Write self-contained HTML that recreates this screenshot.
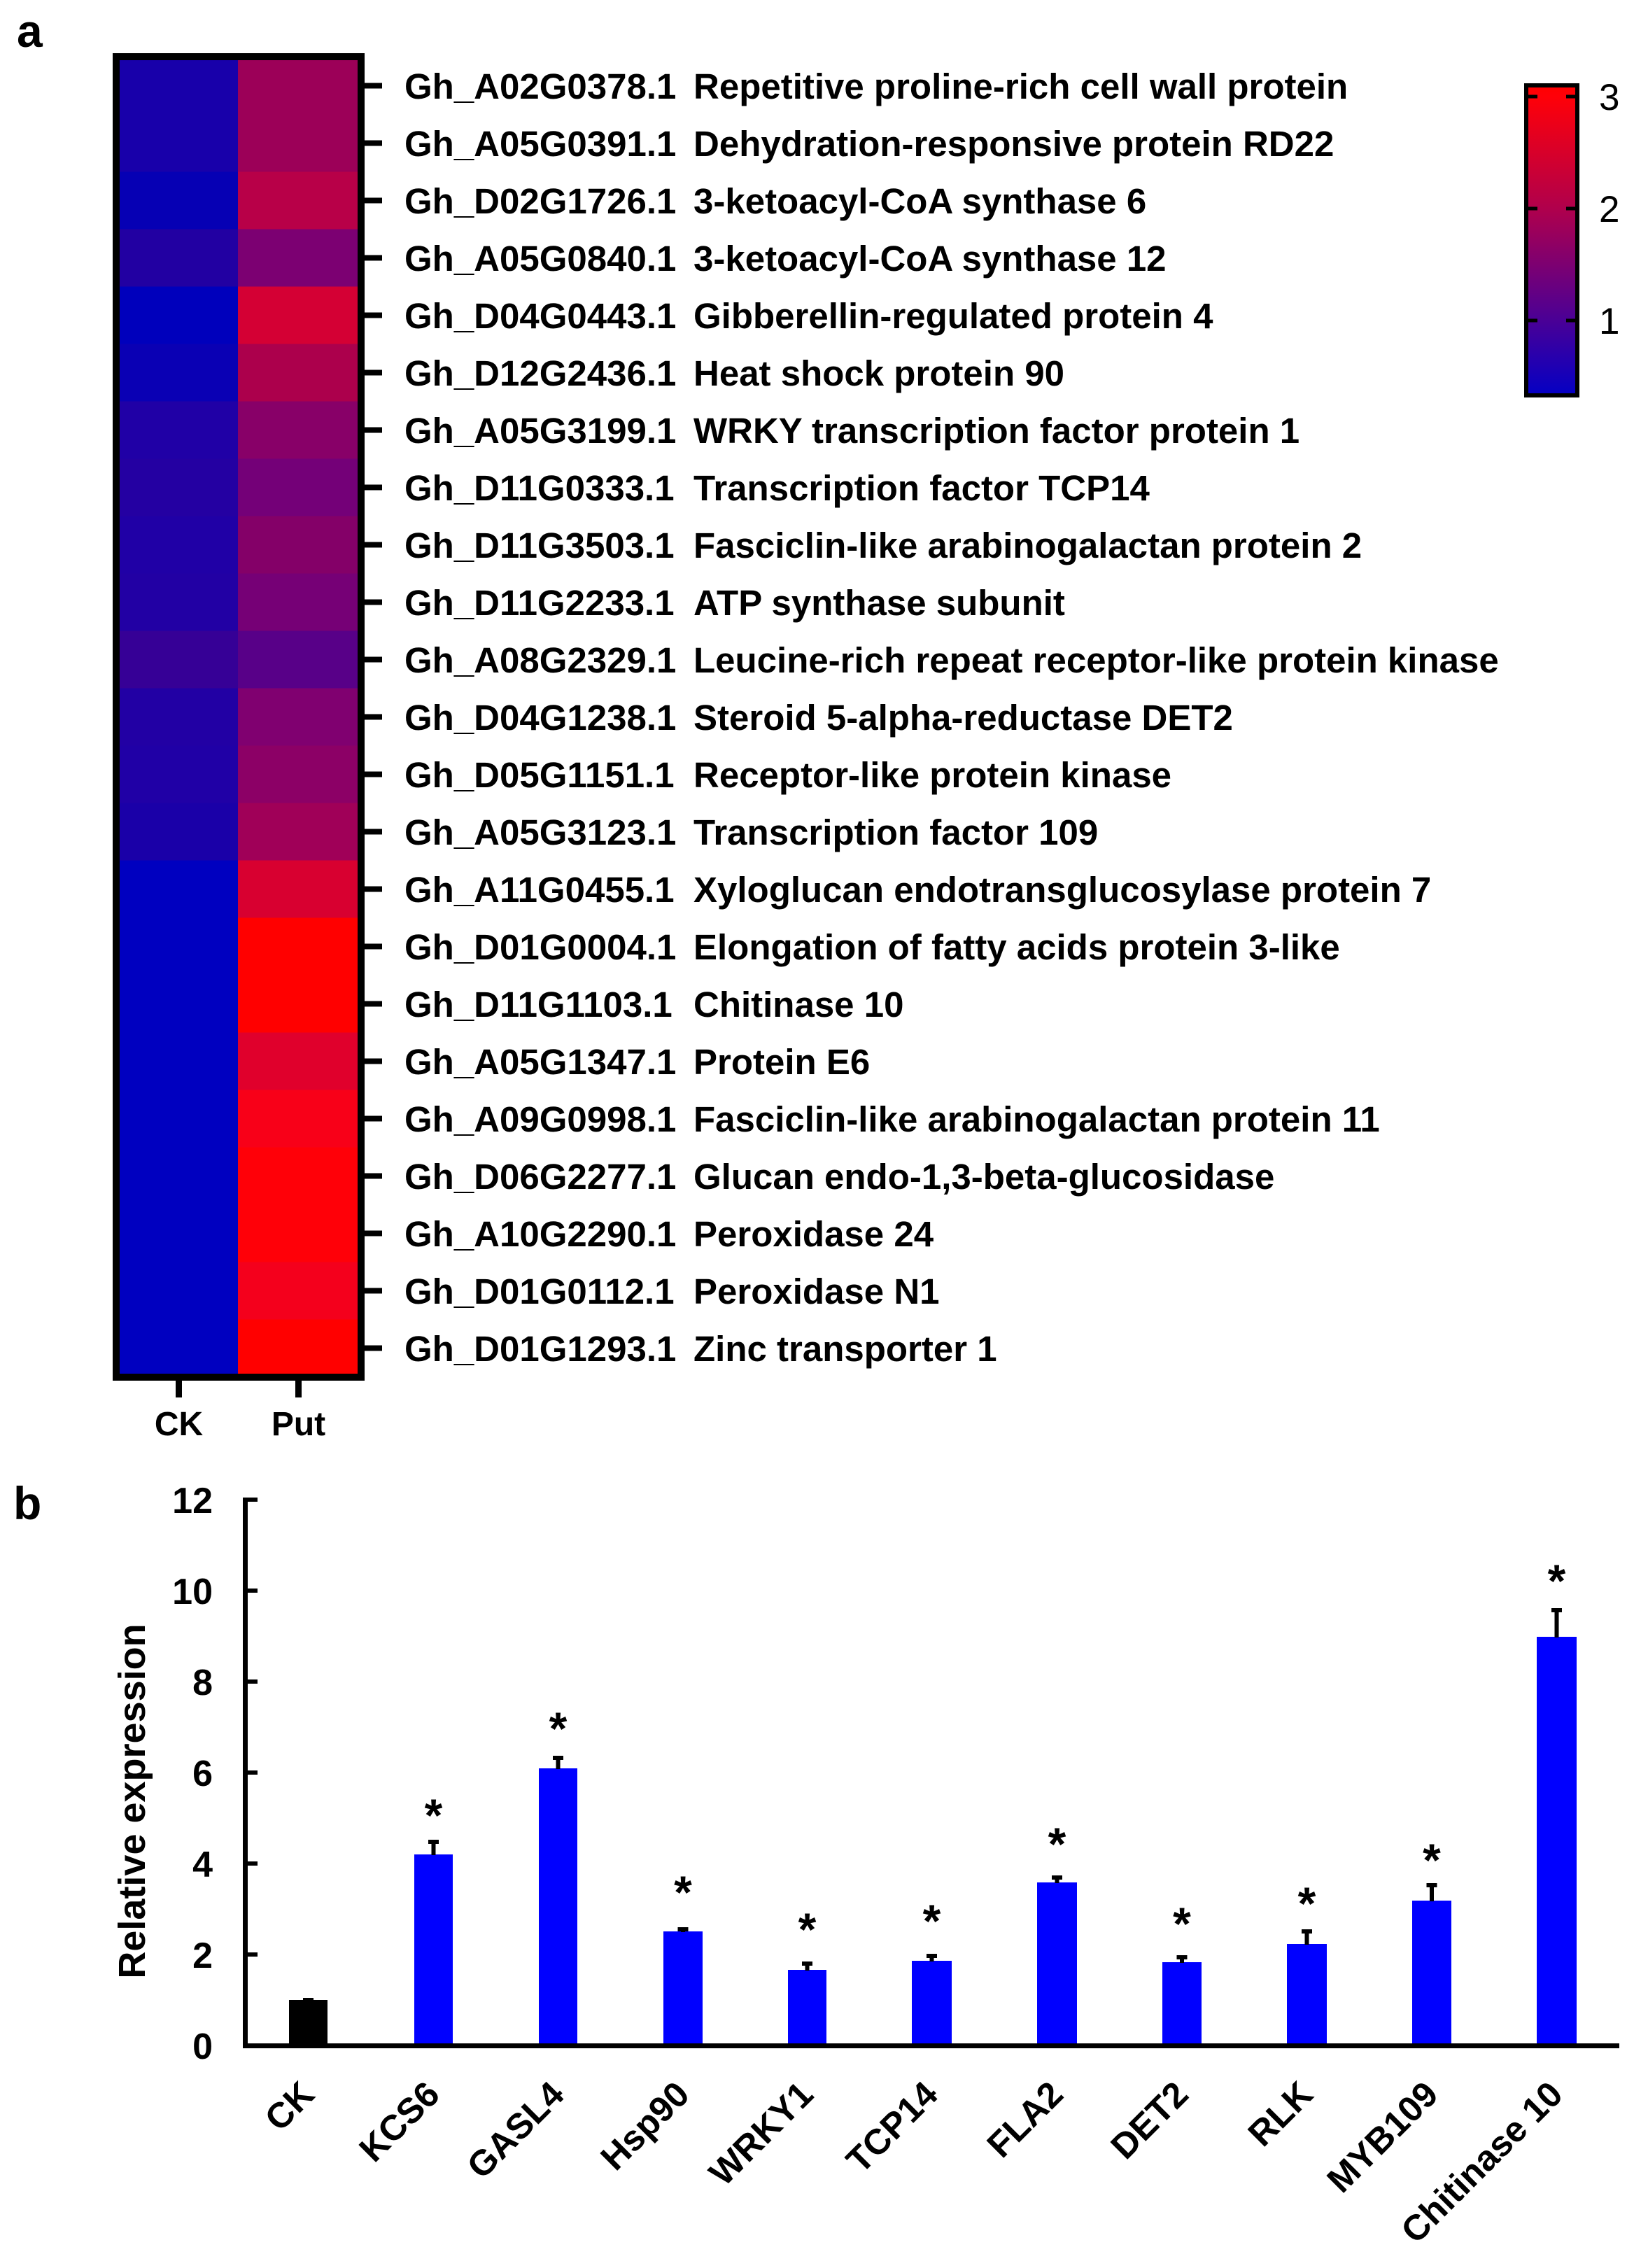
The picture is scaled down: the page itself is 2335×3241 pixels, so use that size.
<!DOCTYPE html>
<html><head><meta charset="utf-8"><style>
html,body{margin:0;padding:0;background:#fff}
svg{display:block}
text{font-family:"Liberation Sans",Arial,sans-serif}
.b{font-weight:bold}
</style></head><body>
<svg xmlns="http://www.w3.org/2000/svg" width="2335" height="3241" viewBox="0 0 2335 3241">
<defs>
<linearGradient id="cb" x1="0" y1="0" x2="0" y2="1">
<stop offset="0" stop-color="#ff0000"/>
<stop offset="0.036" stop-color="#ff0008"/>
<stop offset="0.397" stop-color="#b0004c"/>
<stop offset="0.758" stop-color="#4a0096"/>
<stop offset="1" stop-color="#0400c4"/>
</linearGradient>
</defs>
<rect width="2335" height="3241" fill="#fff"/>
<text class="b" x="24" y="67" font-size="66">a</text>
<!-- heatmap cells -->
<g shape-rendering="crispEdges">
<rect x="166" y="81.5" width="175" height="82" fill="#1800aa"/><rect x="340" y="81.5" width="176" height="82" fill="#9c0058"/>
<rect x="166" y="163.5" width="175" height="82" fill="#1800aa"/><rect x="340" y="163.5" width="176" height="82" fill="#9c0058"/>
<rect x="166" y="245.5" width="175" height="82" fill="#0600b4"/><rect x="340" y="245.5" width="176" height="82" fill="#b80048"/>
<rect x="166" y="327.5" width="175" height="82" fill="#2200a2"/><rect x="340" y="327.5" width="176" height="82" fill="#7c0072"/>
<rect x="166" y="409.5" width="175" height="82" fill="#0000bc"/><rect x="340" y="409.5" width="176" height="82" fill="#d40034"/>
<rect x="166" y="491.5" width="175" height="82" fill="#0a00b4"/><rect x="340" y="491.5" width="176" height="82" fill="#ac004c"/>
<rect x="166" y="573.5" width="175" height="82" fill="#2000a6"/><rect x="340" y="573.5" width="176" height="82" fill="#880068"/>
<rect x="166" y="655.5" width="175" height="82" fill="#2400a2"/><rect x="340" y="655.5" width="176" height="82" fill="#740078"/>
<rect x="166" y="737.5" width="175" height="82" fill="#2000a6"/><rect x="340" y="737.5" width="176" height="82" fill="#840068"/>
<rect x="166" y="819.5" width="175" height="82" fill="#2200a4"/><rect x="340" y="819.5" width="176" height="82" fill="#760076"/>
<rect x="166" y="901.5" width="175" height="82" fill="#360096"/><rect x="340" y="901.5" width="176" height="82" fill="#580088"/>
<rect x="166" y="983.5" width="175" height="82" fill="#2200a4"/><rect x="340" y="983.5" width="176" height="82" fill="#800070"/>
<rect x="166" y="1065.5" width="175" height="82" fill="#2000a6"/><rect x="340" y="1065.5" width="176" height="82" fill="#8c0066"/>
<rect x="166" y="1147.5" width="175" height="82" fill="#1a00a8"/><rect x="340" y="1147.5" width="176" height="82" fill="#a00058"/>
<rect x="166" y="1229.5" width="175" height="82" fill="#0000c0"/><rect x="340" y="1229.5" width="176" height="82" fill="#d80030"/>
<rect x="166" y="1311.5" width="175" height="82" fill="#0000c0"/><rect x="340" y="1311.5" width="176" height="82" fill="#ff0000"/>
<rect x="166" y="1393.5" width="175" height="82" fill="#0000c0"/><rect x="340" y="1393.5" width="176" height="82" fill="#ff0000"/>
<rect x="166" y="1475.5" width="175" height="82" fill="#0000c0"/><rect x="340" y="1475.5" width="176" height="82" fill="#e0002c"/>
<rect x="166" y="1557.5" width="175" height="82" fill="#0000c0"/><rect x="340" y="1557.5" width="176" height="82" fill="#f80018"/>
<rect x="166" y="1639.5" width="175" height="82" fill="#0000c0"/><rect x="340" y="1639.5" width="176" height="82" fill="#ff0008"/>
<rect x="166" y="1721.5" width="175" height="82" fill="#0000c0"/><rect x="340" y="1721.5" width="176" height="82" fill="#ff0008"/>
<rect x="166" y="1803.5" width="175" height="82" fill="#0000c0"/><rect x="340" y="1803.5" width="176" height="82" fill="#f4001c"/>
<rect x="166" y="1885.5" width="175" height="83" fill="#0000c0"/><rect x="340" y="1885.5" width="176" height="83" fill="#ff0000"/>
</g>
<rect x="166" y="81" width="350" height="1887" fill="none" stroke="#000" stroke-width="10"/>
<!-- right ticks -->
<g fill="#000">
<rect x="521" y="118.5" width="25" height="8"/><rect x="521" y="200.5" width="25" height="8"/><rect x="521" y="282.5" width="25" height="8"/>
<rect x="521" y="364.5" width="25" height="8"/><rect x="521" y="446.5" width="25" height="8"/><rect x="521" y="528.5" width="25" height="8"/>
<rect x="521" y="610.5" width="25" height="8"/><rect x="521" y="692.5" width="25" height="8"/><rect x="521" y="774.5" width="25" height="8"/>
<rect x="521" y="856.5" width="25" height="8"/><rect x="521" y="938.5" width="25" height="8"/><rect x="521" y="1020.5" width="25" height="8"/>
<rect x="521" y="1102.5" width="25" height="8"/><rect x="521" y="1184.5" width="25" height="8"/><rect x="521" y="1266.5" width="25" height="8"/>
<rect x="521" y="1348.5" width="25" height="8"/><rect x="521" y="1430.5" width="25" height="8"/><rect x="521" y="1512.5" width="25" height="8"/>
<rect x="521" y="1594.5" width="25" height="8"/><rect x="521" y="1676.5" width="25" height="8"/><rect x="521" y="1758.5" width="25" height="8"/>
<rect x="521" y="1840.5" width="25" height="8"/><rect x="521" y="1922.5" width="25" height="8"/>
<rect x="251" y="1972" width="9" height="25"/><rect x="422" y="1972" width="9" height="25"/>
</g>
<text class="b" x="255.5" y="2051" font-size="48" text-anchor="middle">CK</text>
<text class="b" x="426.5" y="2051" font-size="48" text-anchor="middle">Put</text>
<!-- row labels -->
<g class="b" font-size="51">
<text x="578" y="141">Gh_A02G0378.1</text><text x="991" y="141">Repetitive proline-rich cell wall protein</text>
<text x="578" y="223">Gh_A05G0391.1</text><text x="991" y="223">Dehydration-responsive protein RD22</text>
<text x="578" y="305">Gh_D02G1726.1</text><text x="991" y="305">3-ketoacyl-CoA synthase 6</text>
<text x="578" y="387">Gh_A05G0840.1</text><text x="991" y="387">3-ketoacyl-CoA synthase 12</text>
<text x="578" y="469">Gh_D04G0443.1</text><text x="991" y="469">Gibberellin-regulated protein 4</text>
<text x="578" y="551">Gh_D12G2436.1</text><text x="991" y="551">Heat shock protein 90</text>
<text x="578" y="633">Gh_A05G3199.1</text><text x="991" y="633">WRKY transcription factor protein 1</text>
<text x="578" y="715">Gh_D11G0333.1</text><text x="991" y="715">Transcription factor TCP14</text>
<text x="578" y="797">Gh_D11G3503.1</text><text x="991" y="797">Fasciclin-like arabinogalactan protein 2</text>
<text x="578" y="879">Gh_D11G2233.1</text><text x="991" y="879">ATP synthase subunit</text>
<text x="578" y="961">Gh_A08G2329.1</text><text x="991" y="961">Leucine-rich repeat receptor-like protein kinase</text>
<text x="578" y="1043">Gh_D04G1238.1</text><text x="991" y="1043">Steroid 5-alpha-reductase DET2</text>
<text x="578" y="1125">Gh_D05G1151.1</text><text x="991" y="1125">Receptor-like protein kinase</text>
<text x="578" y="1207">Gh_A05G3123.1</text><text x="991" y="1207">Transcription factor 109</text>
<text x="578" y="1289">Gh_A11G0455.1</text><text x="991" y="1289">Xyloglucan endotransglucosylase protein 7</text>
<text x="578" y="1371">Gh_D01G0004.1</text><text x="991" y="1371">Elongation of fatty acids protein 3-like</text>
<text x="578" y="1453">Gh_D11G1103.1</text><text x="991" y="1453">Chitinase 10</text>
<text x="578" y="1535">Gh_A05G1347.1</text><text x="991" y="1535">Protein E6</text>
<text x="578" y="1617">Gh_A09G0998.1</text><text x="991" y="1617">Fasciclin-like arabinogalactan protein 11</text>
<text x="578" y="1699">Gh_D06G2277.1</text><text x="991" y="1699">Glucan endo-1,3-beta-glucosidase</text>
<text x="578" y="1781">Gh_A10G2290.1</text><text x="991" y="1781">Peroxidase 24</text>
<text x="578" y="1863">Gh_D01G0112.1</text><text x="991" y="1863">Peroxidase N1</text>
<text x="578" y="1945">Gh_D01G1293.1</text><text x="991" y="1945">Zinc transporter 1</text>
</g>
<!-- colorbar -->
<rect x="2181" y="122" width="73" height="443" fill="url(#cb)" stroke="#000" stroke-width="6"/>
<g fill="#000">
<rect x="2184" y="135.5" width="13" height="5"/><rect x="2238" y="135.5" width="13" height="5"/>
<rect x="2184" y="295.5" width="13" height="5"/><rect x="2238" y="295.5" width="13" height="5"/>
<rect x="2184" y="455.5" width="13" height="5"/><rect x="2238" y="455.5" width="13" height="5"/>
</g>
<g font-size="53">
<text x="2285" y="157">3</text>
<text x="2285" y="317">2</text>
<text x="2285" y="477">1</text>
</g>
<!-- panel b -->
<text class="b" x="19" y="2171" font-size="66">b</text>
<text class="b" font-size="54" text-anchor="middle" transform="translate(207,2574) rotate(-90)">Relative expression</text>
<g class="b" font-size="52" text-anchor="end">
<text x="304" y="2162">12</text>
<text x="304" y="2292">10</text>
<text x="304" y="2422">8</text>
<text x="304" y="2552">6</text>
<text x="304" y="2682">4</text>
<text x="304" y="2812">2</text>
<text x="304" y="2942">0</text>
</g>
<!-- bars -->
<g shape-rendering="crispEdges">
<rect x="413" y="2858" width="55" height="66" fill="#000"/>
<rect x="592" y="2650" width="55" height="274" fill="#0000ff"/>
<rect x="770" y="2527" width="55" height="397" fill="#0000ff"/>
<rect x="948" y="2760" width="56" height="164" fill="#0000ff"/>
<rect x="1126" y="2815" width="55" height="109" fill="#0000ff"/>
<rect x="1303" y="2802" width="57" height="122" fill="#0000ff"/>
<rect x="1482" y="2690" width="57" height="234" fill="#0000ff"/>
<rect x="1661" y="2804" width="56" height="120" fill="#0000ff"/>
<rect x="1839" y="2778" width="57" height="146" fill="#0000ff"/>
<rect x="2018" y="2716" width="56" height="208" fill="#0000ff"/>
<rect x="2196" y="2339" width="57" height="585" fill="#0000ff"/>
</g>
<!-- error bars -->
<g fill="#000">
<rect x="433" y="2855" width="15" height="4"/>
<rect x="616.5" y="2629" width="6" height="22"/><rect x="612" y="2629" width="15" height="6"/>
<rect x="794.5" y="2509" width="6" height="19"/><rect x="790" y="2509" width="15" height="6"/>
<rect x="973" y="2754" width="6" height="7"/><rect x="968.5" y="2754" width="15" height="6"/>
<rect x="1150.5" y="2803" width="6" height="13"/><rect x="1146" y="2803" width="15" height="6"/>
<rect x="1328.5" y="2792" width="6" height="11"/><rect x="1324" y="2792" width="15" height="6"/>
<rect x="1507.5" y="2680" width="6" height="11"/><rect x="1503" y="2680" width="15" height="6"/>
<rect x="1686" y="2794" width="6" height="11"/><rect x="1681.5" y="2794" width="15" height="6"/>
<rect x="1864.5" y="2757" width="6" height="22"/><rect x="1860" y="2757" width="15" height="6"/>
<rect x="2043" y="2691" width="6" height="26"/><rect x="2038.5" y="2691" width="15" height="6"/>
<rect x="2221.5" y="2298" width="6" height="42"/><rect x="2217" y="2298" width="15" height="6"/>
</g>
<!-- axes -->
<g fill="#000">
<rect x="347" y="2140" width="7" height="787"/>
<rect x="347" y="2920" width="1967" height="7"/>
<rect x="354" y="2140" width="14" height="6"/>
<rect x="354" y="2270" width="14" height="6"/>
<rect x="354" y="2400" width="14" height="6"/>
<rect x="354" y="2530" width="14" height="6"/>
<rect x="354" y="2660" width="14" height="6"/>
<rect x="354" y="2790" width="14" height="6"/>
</g>
<!-- stars -->
<g class="b" font-size="66" text-anchor="middle">
<text x="619.5" y="2617">*</text>
<text x="797.5" y="2493">*</text>
<text x="976" y="2727">*</text>
<text x="1153.5" y="2780">*</text>
<text x="1331.5" y="2768">*</text>
<text x="1510.5" y="2658">*</text>
<text x="1689" y="2772">*</text>
<text x="1867.5" y="2743">*</text>
<text x="2046" y="2681">*</text>
<text x="2224.5" y="2282">*</text>
</g>
<!-- x labels -->
<g class="b" font-size="51" text-anchor="end">
<text transform="translate(452,2996) rotate(-45)">CK</text>
<text transform="translate(631,2996) rotate(-45)">KCS6</text>
<text transform="translate(809,2996) rotate(-45)">GASL4</text>
<text transform="translate(988,2996) rotate(-45)">Hsp90</text>
<text transform="translate(1165,2996) rotate(-45)">WRKY1</text>
<text transform="translate(1343,2996) rotate(-45)">TCP14</text>
<text transform="translate(1522,2996) rotate(-45)">FLA2</text>
<text transform="translate(1701,2996) rotate(-45)">DET2</text>
<text transform="translate(1879,2996) rotate(-45)">RLK</text>
<text transform="translate(2058,2996) rotate(-45)">MYB109</text>
<text transform="translate(2236,2996) rotate(-45)">Chitinase 10</text>
</g>
</svg>
</body></html>
